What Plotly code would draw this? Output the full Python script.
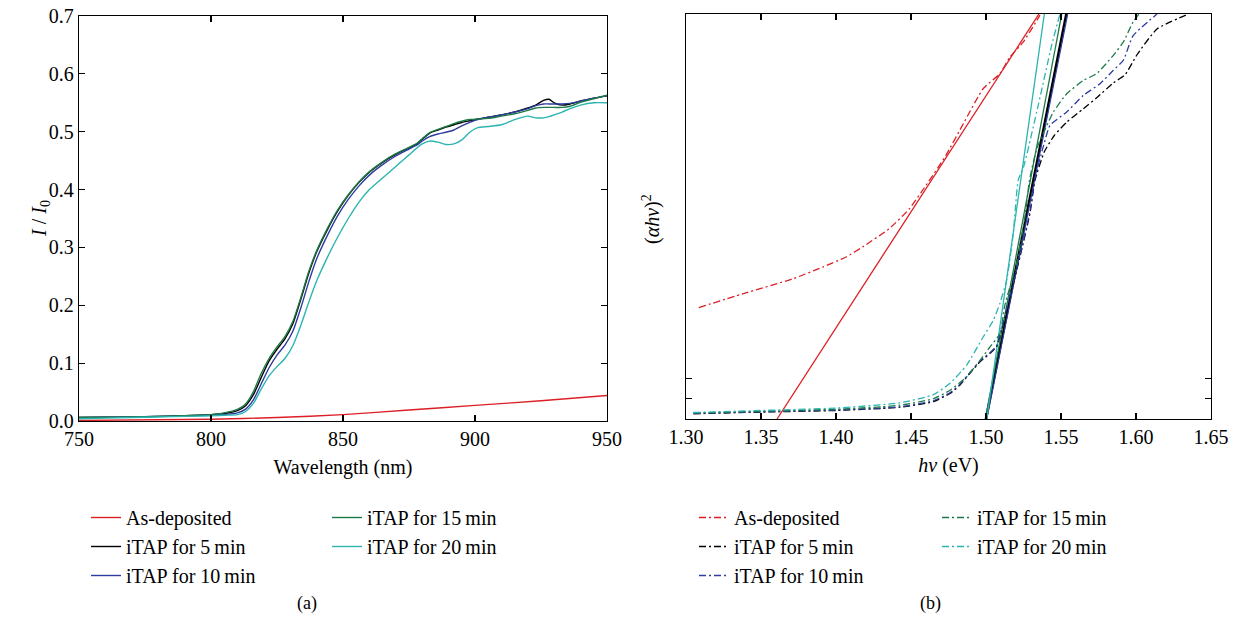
import plotly.graph_objects as go

# ---------------- (a) transmission spectra ----------------
wl = [750, 760, 770, 780, 790, 800, 805, 810, 813, 816, 819, 822, 825, 828, 831, 834, 837, 840,
      844, 848, 852, 856, 860, 865, 870, 875, 878, 880, 883, 886, 889, 892, 895, 898, 901, 905,
      910, 915, 920, 923, 926, 928, 930, 933, 936, 940, 945, 950]

t_5min = [0.006, 0.0065, 0.007, 0.008, 0.009, 0.011, 0.013, 0.018, 0.026, 0.045, 0.075, 0.104, 0.124,
          0.142, 0.168, 0.210, 0.255, 0.292, 0.330, 0.363, 0.390, 0.412, 0.430, 0.447, 0.461, 0.472,
          0.479, 0.487, 0.498, 0.503, 0.508, 0.512, 0.516, 0.519, 0.522, 0.525, 0.529, 0.534, 0.541,
          0.546, 0.554, 0.556, 0.550, 0.546, 0.548, 0.553, 0.558, 0.562]
t_10min = [0.006, 0.0065, 0.007, 0.008, 0.009, 0.010, 0.011, 0.014, 0.020, 0.036, 0.064, 0.092, 0.114,
           0.131, 0.155, 0.195, 0.240, 0.280, 0.320, 0.355, 0.383, 0.406, 0.425, 0.443, 0.458, 0.470,
           0.477, 0.484, 0.492, 0.496, 0.499, 0.503, 0.510, 0.516, 0.521, 0.525, 0.529, 0.534, 0.540,
           0.545, 0.548, 0.548, 0.548, 0.548, 0.549, 0.553, 0.558, 0.562]
t_15min = [0.006, 0.0065, 0.007, 0.008, 0.009, 0.011, 0.014, 0.020, 0.029, 0.050, 0.082, 0.108, 0.128,
           0.146, 0.172, 0.213, 0.258, 0.294, 0.332, 0.365, 0.391, 0.413, 0.431, 0.448, 0.462, 0.473,
           0.480, 0.488, 0.499, 0.504, 0.509, 0.514, 0.518, 0.521, 0.522, 0.523, 0.527, 0.531, 0.537,
           0.541, 0.542, 0.542, 0.542, 0.542, 0.544, 0.551, 0.557, 0.563]
t_20min = [0.004, 0.005, 0.006, 0.007, 0.008, 0.009, 0.010, 0.011, 0.016, 0.030, 0.055, 0.078, 0.094,
           0.108, 0.130, 0.165, 0.205, 0.242, 0.282, 0.318, 0.350, 0.378, 0.400, 0.420, 0.440, 0.460,
           0.472, 0.479, 0.484, 0.482, 0.478, 0.479, 0.486, 0.499, 0.507, 0.509, 0.512, 0.521, 0.527,
           0.524, 0.524, 0.526, 0.529, 0.534, 0.540, 0.546, 0.550, 0.550]

wl_asdep = [750, 800, 825, 850, 875, 900, 925, 950]
t_asdep = [0.001, 0.003, 0.006, 0.011, 0.019, 0.027, 0.035, 0.044]

# ---------------- (b) Tauc plot (arbitrary units) ----------------
hv_asdep = [1.3085, 1.3378, 1.3711, 1.3911, 1.4067, 1.4178, 1.4355, 1.4489, 1.4600, 1.4733,
            1.4850, 1.4982, 1.5093, 1.5160, 1.5249, 1.5360]
ah_asdep = [2.75, 3.09, 3.46, 3.75, 4.00, 4.25, 4.70, 5.19, 5.77, 6.51, 7.30, 8.16, 8.53, 8.94, 9.31, 9.97]

hv_5min = [1.305, 1.35, 1.40, 1.43, 1.4427, 1.4649, 1.476, 1.4827, 1.4893, 1.496, 1.5027, 1.5071,
           1.5115, 1.516, 1.5227, 1.5293, 1.5327, 1.5389, 1.5455, 1.5538, 1.5649, 1.5738, 1.5849,
           1.5927, 1.6008, 1.614, 1.635]
ah_5min = [0.13, 0.17, 0.21, 0.26, 0.29, 0.43, 0.63, 0.84, 1.13, 1.41, 1.62, 1.79, 2.36, 3.02, 4.01,
           5.08, 5.90, 6.60, 7.00, 7.33, 7.66, 7.93, 8.30, 8.50, 9.00, 9.63, 10.0]

hv_10min = [1.305, 1.35, 1.40, 1.43, 1.4427, 1.4649, 1.476, 1.4827, 1.4893, 1.496, 1.5027, 1.5071,
            1.5115, 1.516, 1.5227, 1.5293, 1.5327, 1.5380, 1.5427, 1.5538, 1.5649, 1.576, 1.5849,
            1.5916, 1.598, 1.614]
ah_10min = [0.14, 0.18, 0.22, 0.27, 0.30, 0.45, 0.65, 0.86, 1.15, 1.43, 1.64, 1.81, 2.40, 3.05, 4.05,
            5.12, 5.95, 6.70, 7.25, 7.58, 7.99, 8.28, 8.61, 8.86, 9.46, 10.0]

hv_15min = [1.305, 1.35, 1.40, 1.43, 1.4427, 1.4649, 1.476, 1.4871, 1.496, 1.5027, 1.5093, 1.5125,
            1.5204, 1.5260, 1.5290, 1.5338, 1.5400, 1.5449, 1.5538, 1.5649, 1.5738, 1.5849, 1.5916,
            1.598, 1.603]
ah_15min = [0.15, 0.19, 0.24, 0.30, 0.34, 0.50, 0.71, 1.04, 1.45, 1.78, 2.11, 2.80, 3.84, 5.00, 5.90,
            6.67, 7.20, 7.58, 8.03, 8.36, 8.53, 8.98, 9.31, 9.80, 10.05]

hv_20min = [1.305, 1.35, 1.40, 1.4427, 1.4649, 1.476, 1.4871, 1.4982, 1.5049, 1.5093, 1.5138, 1.5182,
            1.5215, 1.5249, 1.5338, 1.5438, 1.5493]
ah_20min = [0.16, 0.21, 0.27, 0.40, 0.60, 0.88, 1.33, 2.03, 2.44, 2.86, 3.43, 4.59, 5.90, 6.20, 7.58,
            9.23, 10.0]

# linear fits (hv at zero and at top of axis)
fit_y = [0.0, 10.0]
fit_asdep = [1.3607, 1.5353]
fit_5min = [1.5000, 1.5535]
fit_10min = [1.5005, 1.5545]
fit_15min = [1.4995, 1.5505]
fit_20min = [1.5005, 1.5389]

names = ["As-deposited", "iTAP for 5\u2009min", "iTAP for 10\u2009min", "iTAP for 15\u2009min", "iTAP for 20\u2009min"]
colors = ["#dc1f26", "#000000", "#2d3c9e", "#1d7a48", "#2bb5b0"]

FONT = "Liberation Serif"
FS = 20
LFS = 20
DASHDOT = "7px,3px,2px,3px"

fig = go.Figure()

# (a)
a_x = [wl_asdep, wl, wl, wl, wl]
a_y = [t_asdep, t_5min, t_10min, t_15min, t_20min]
for i in range(5):
    fig.add_trace(go.Scatter(
        x=a_x[i], y=a_y[i], mode="lines", name=names[i],
        line=dict(color=colors[i], width=1.4, shape="spline", smoothing=0.6),
        xaxis="x", yaxis="y", legend="legend" if i < 3 else "legend2"))

# (b) fits (solid)
fits = [fit_asdep, fit_5min, fit_10min, fit_15min, fit_20min]
fit_widths = [1.3, 2.4, 1.2, 1.3, 1.3]
for i in [0, 1, 3, 2, 4]:
    fig.add_trace(go.Scatter(
        x=fits[i], y=fit_y, mode="lines", showlegend=False,
        line=dict(color=colors[i], width=fit_widths[i]),
        xaxis="x2", yaxis="y2"))

# (b) data (dash-dot)
b_x = [hv_asdep, hv_5min, hv_10min, hv_15min, hv_20min]
b_y = [ah_asdep, ah_5min, ah_10min, ah_15min, ah_20min]
for i in range(5):
    fig.add_trace(go.Scatter(
        x=b_x[i], y=b_y[i], mode="lines", name=names[i],
        line=dict(color=colors[i], width=1.3, dash=DASHDOT, shape="spline", smoothing=0.5),
        xaxis="x2", yaxis="y2", legend="legend3" if i < 3 else "legend4"))

# body margin is removed in the page (post_script), so figure fills the window
W, H = 1241, 624
def px(x):
    return x / W
def py(y):
    return 1 - y / H

axis_common = dict(showline=True, linecolor="black", linewidth=1.2, mirror="allticks",
                   ticks="inside", ticklen=6, tickcolor="black", tickwidth=1.2,
                   showgrid=False, zeroline=False, automargin=False,
                   ticklabeloverflow="allow",
                   tickfont=dict(family=FONT, size=FS, color="black"))

legend_common = dict(font=dict(family=FONT, size=LFS, color="black"), bgcolor="rgba(0,0,0,0)",
                     xanchor="left", yanchor="top", orientation="v", tracegroupgap=0,
                     itemwidth=30)

fig.update_layout(
    width=W, height=H, margin=dict(l=0, r=0, t=0, b=0, autoexpand=False),
    paper_bgcolor="white", plot_bgcolor="white",
    font=dict(family=FONT, size=FS, color="black"),
    hovermode=False,
    xaxis=dict(domain=[px(79), px(607)], range=[750, 950], tickvals=[750, 800, 850, 900, 950],
               title=dict(text="Wavelength (nm)", standoff=10, font=dict(family=FONT, size=FS)),
               anchor="y", **axis_common),
    yaxis=dict(domain=[py(421), py(16)], range=[0, 0.7], dtick=0.1, tickformat=".1f",
               anchor="x", **axis_common),
    xaxis2=dict(domain=[px(686), px(1211)], range=[1.30, 1.65], dtick=0.05, tickformat=".2f",
                title=dict(text="<i>h\u03bd</i> (eV)", standoff=10, font=dict(family=FONT, size=FS)),
                anchor="y2", **axis_common),
    yaxis2=dict(domain=[py(419), py(14)], range=[0, 10], tickvals=[0.5, 1.0], showticklabels=False,
                anchor="x2", **axis_common),
    legend=dict(x=px(86), y=py(498), **legend_common),
    legend2=dict(x=px(327), y=py(498), **legend_common),
    legend3=dict(x=px(694), y=py(498), **legend_common),
    legend4=dict(x=px(937), y=py(498), **legend_common),
    annotations=[
        dict(text="<i>I</i> / <i>I</i><sub>0</sub>", textangle=-90, x=px(40), y=py(218),
             xref="paper", yref="paper", showarrow=False, xanchor="center", yanchor="middle",
             font=dict(family=FONT, size=FS)),
        dict(text="(<i>\u03b1h\u03bd</i>)<sup>2</sup>", textangle=-90, x=px(652), y=py(219),
             xref="paper", yref="paper", showarrow=False, xanchor="center", yanchor="middle",
             font=dict(family=FONT, size=FS)),
        dict(text="(a)", x=px(307), y=py(603), xref="paper", yref="paper", showarrow=False,
             xanchor="center", yanchor="middle", font=dict(family=FONT, size=FS - 2)),
        dict(text="(b)", x=px(930), y=py(603), xref="paper", yref="paper", showarrow=False,
             xanchor="center", yanchor="middle", font=dict(family=FONT, size=FS - 2)),
    ],
)

fig.write_html("out.html", config={"displayModeBar": False, "staticPlot": True},
               post_script="document.body.style.margin='0px';document.body.style.overflow='hidden';")
